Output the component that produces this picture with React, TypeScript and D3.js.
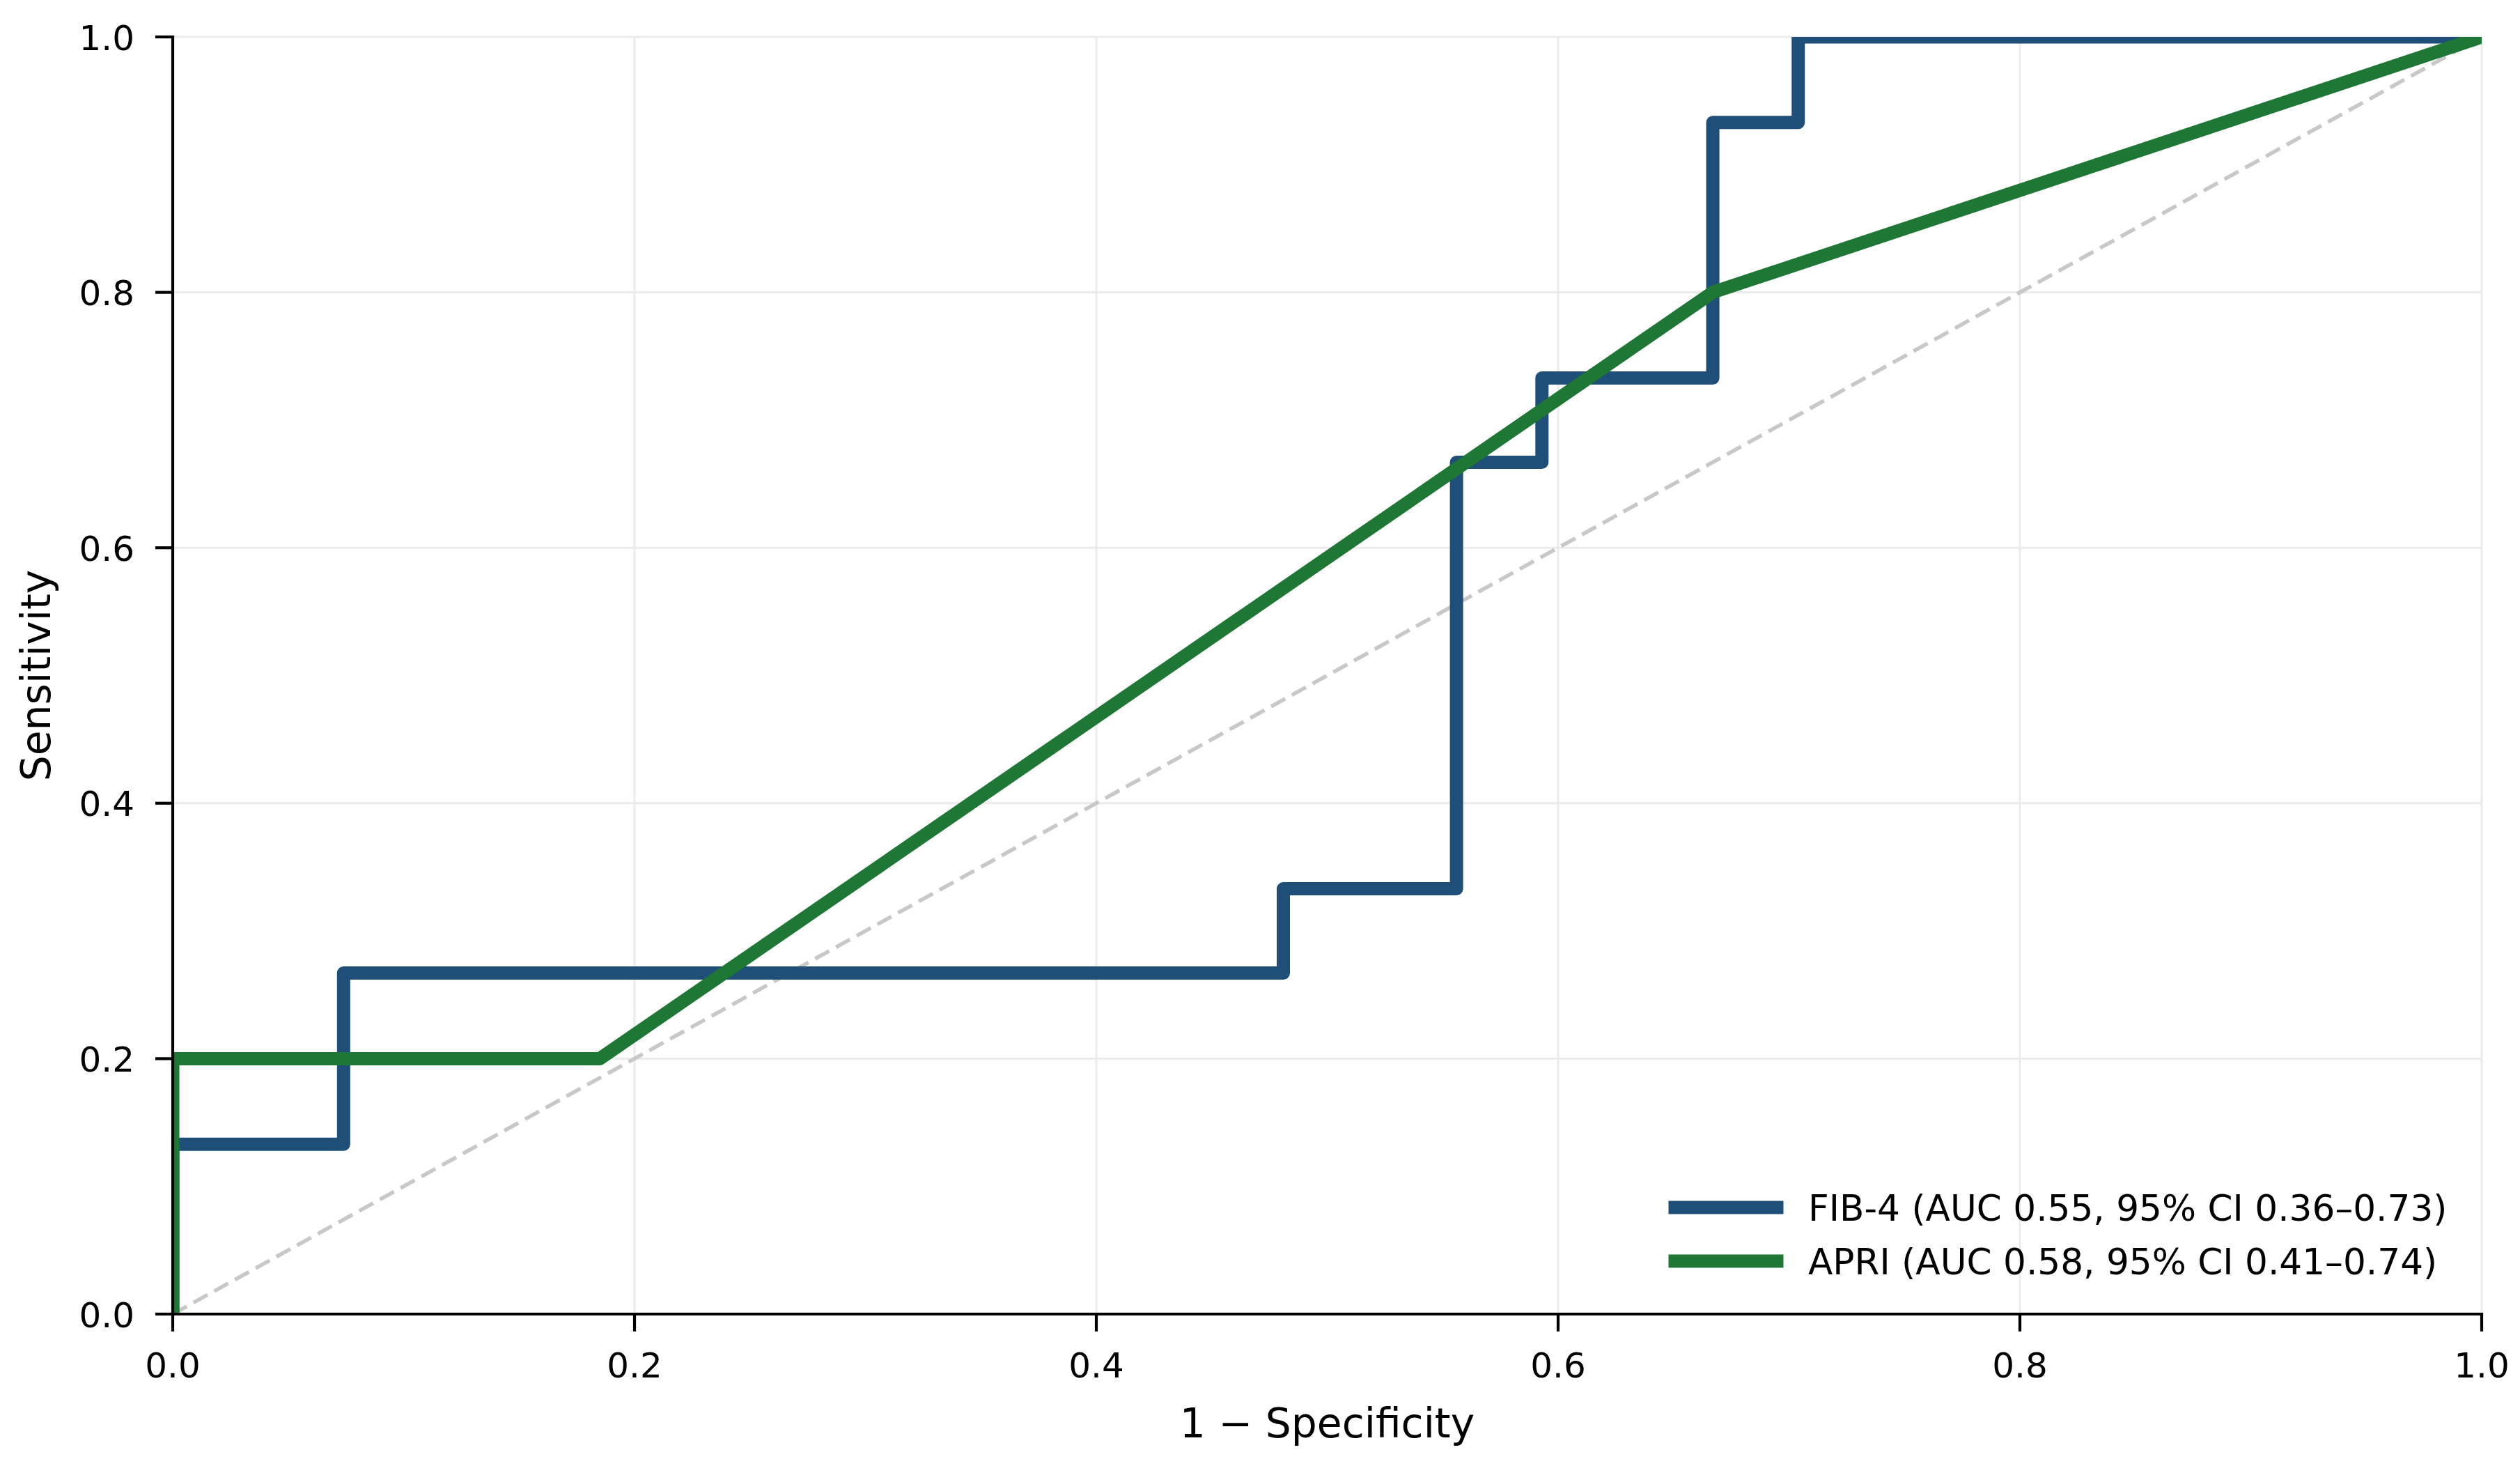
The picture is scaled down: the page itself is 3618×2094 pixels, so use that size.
import React from "react";
import * as d3 from "d3";

const fib4Fpr = [0, 0, 0.074, 0.074, 0.481, 0.481, 0.556, 0.556, 0.593, 0.593, 0.667, 0.667, 0.704, 0.704, 1];
const fib4Tpr = [0, 0.133, 0.133, 0.267, 0.267, 0.333, 0.333, 0.667, 0.667, 0.733, 0.733, 0.933, 0.933, 1, 1];
const apriFpr = [0, 0, 0.185, 0.667, 1];
const apriTpr = [0, 0.2, 0.2, 0.8, 1];
const tickValues = [0, 0.2, 0.4, 0.6, 0.8, 1.0];
const seriesNames = ["FIB-4 (AUC 0.55, 95% CI 0.36–0.73)", "APRI (AUC 0.58, 95% CI 0.41–0.74)"];
const seriesColors = ["#1f4e79", "#1e7735"];
const xLabel = "1 − Specificity";
const yLabel = "Sensitivity";

const W = 3618;
const H = 2094;
const L = 248, R = 3563, T = 53, B = 1886;
const FONT = "'DejaVu Sans', sans-serif";

export default function App() {
  const x = d3.scaleLinear().domain([0, 1]).range([L, R]);
  const y = d3.scaleLinear().domain([0, 1]).range([B, T]);
  const line = d3.line<[number, number]>().x((d) => x(d[0])).y((d) => y(d[1]));
  const fib = fib4Fpr.map((v, i) => [v, fib4Tpr[i]] as [number, number]);
  const apri = apriFpr.map((v, i) => [v, apriTpr[i]] as [number, number]);
  const series = [fib, apri];
  const fmt = d3.format(".1f");

  return (
    <svg width={W} height={H} style={{ position: "absolute", left: 0, top: 0, background: "#fff" }} fontFamily={FONT}>
      <defs>
        <clipPath id="plotclip">
          <rect x={L} y={T} width={R - L} height={B - T} />
        </clipPath>
      </defs>
      <rect x={0} y={0} width={W} height={H} fill="#fff" />
      {/* grid */}
      {tickValues.map((t) => (
        <g key={"g" + t}>
          <line x1={x(t)} x2={x(t)} y1={T} y2={B} stroke="#ebebeb" strokeWidth={3} />
          <line x1={L} x2={R} y1={y(t)} y2={y(t)} stroke="#ebebeb" strokeWidth={3} />
        </g>
      ))}
      {/* chance line */}
      <path d={line([[0, 0], [1, 1]]) || ""} stroke="#c8c8c8" strokeWidth={5.5} strokeDasharray="23 11" fill="none" clipPath="url(#plotclip)" />
      {/* ROC curves */}
      <g clipPath="url(#plotclip)">
        {series.map((s, i) => (
          <path key={i} d={line(s) || ""} stroke={seriesColors[i]} strokeWidth={19} fill="none" strokeLinejoin="round" strokeLinecap="square" />
        ))}
      </g>
      {/* axes */}
      <line x1={L} x2={R} y1={B} y2={B} stroke="#000" strokeWidth={4.2} strokeLinecap="square" />
      <line x1={L} x2={L} y1={T} y2={B} stroke="#000" strokeWidth={4.2} strokeLinecap="square" />
      {tickValues.map((t) => (
        <g key={"x" + t}>
          <line x1={x(t)} x2={x(t)} y1={B} y2={B + 25} stroke="#000" strokeWidth={4.2} />
          <text x={x(t)} y={1977} fontSize={50} textAnchor="middle" fill="#000">{fmt(t)}</text>
        </g>
      ))}
      {tickValues.map((t) => (
        <g key={"y" + t}>
          <line x1={L - 25} x2={L} y1={y(t)} y2={y(t)} stroke="#000" strokeWidth={4.2} />
          <text x={193} y={y(t) + 18.5} fontSize={50} textAnchor="end" fill="#000">{fmt(t)}</text>
        </g>
      ))}
      <text x={(L + R) / 2} y={2063} fontSize={58.3} textAnchor="middle" fill="#000">{xLabel}</text>
      <text transform={`translate(72, ${(T + B) / 2}) rotate(-90)`} fontSize={58.3} textAnchor="middle" fill="#000">{yLabel}</text>
      {/* legend */}
      {seriesNames.map((n, i) => {
        const cy = 1733 + i * 77;
        return (
          <g key={"l" + i}>
            <line x1={2405} x2={2551} y1={cy} y2={cy} stroke={seriesColors[i]} strokeWidth={19} strokeLinecap="square" />
            <text x={2596} y={cy + 19} fontSize={51.7} fill="#000">{n}</text>
          </g>
        );
      })}
    </svg>
  );
}
